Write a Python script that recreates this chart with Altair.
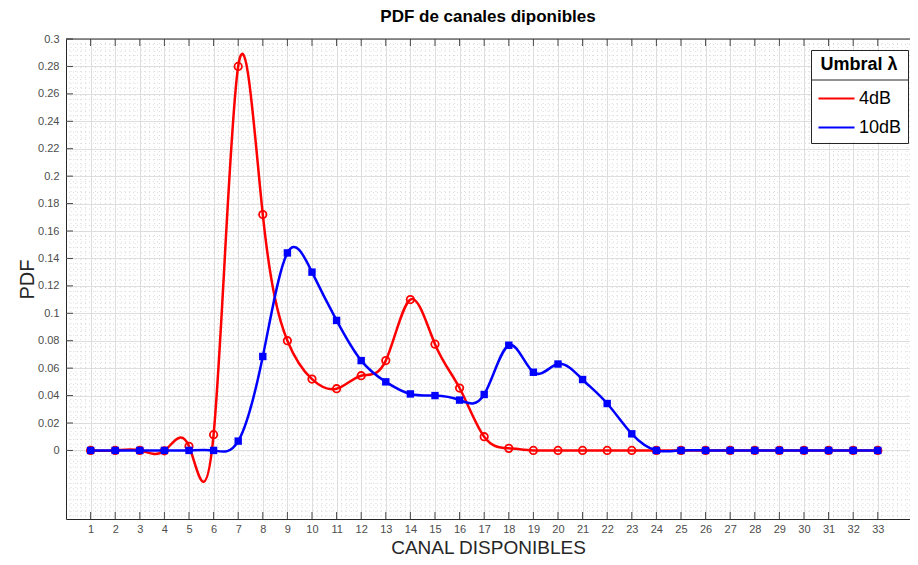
import altair as alt
import pandas as pd
import numpy as np

channels = list(range(1, 34))
pdf_4db = [0.0, 0.0, 0.0, -0.0003, 0.003, 0.0115, 0.280, 0.172, 0.080, 0.052, 0.045,
           0.0545, 0.0655, 0.110, 0.0775, 0.0455, 0.010, 0.0015] + [0.0] * 15
pdf_10db = [0.0, 0.0, 0.0, 0.0, 0.0, 0.0, 0.0068, 0.0685, 0.144, 0.130, 0.0948, 0.0655,
            0.050, 0.0412, 0.040, 0.0367, 0.0408, 0.0767, 0.057, 0.063, 0.0517, 0.0342,
            0.0121] + [0.0] * 10
series_names = ["4dB", "10dB"]
series_colors = ["#ff0000", "#0000ff"]
x_ticks = list(range(1, 34))
y_ticks = [round(i * 0.02, 2) for i in range(16)]
x_domain = [0, 34.31]
y_domain = [-0.05, 0.3]

W, H = 844, 480

df = pd.DataFrame({
    "canal": channels * 2,
    "pdf": pdf_4db + pdf_10db,
    "serie": [series_names[0]] * 33 + [series_names[1]] * 33,
})

xs = alt.Scale(domain=x_domain, nice=False, zero=False)
ys = alt.Scale(domain=y_domain, nice=False, zero=False)

ax_x = alt.Axis(values=x_ticks, title="CANAL DISPONIBLES", grid=True, ticks=False,
                domain=True, labelPadding=4, titleY=34, titleBaseline="alphabetic", format="d")
ax_y = alt.Axis(values=y_ticks, title="PDF", grid=True, ticks=False, domain=True,
                labelPadding=7, titlePadding=0, labelExpr="format(datum.value, '~g')")

# minor grid
xminor = pd.DataFrame({"v": [round(v, 2) for v in np.arange(0.2, 34.3, 0.2) if abs(v - round(v)) > 1e-6]})
yminor = pd.DataFrame({"v": [round(v, 4) for v in np.arange(-0.048, 0.3, 0.004)
                             if abs(v / 0.02 - round(v / 0.02)) > 1e-6 or v < -1e-9]})

minor_col = "#d2d2d2"
minor_x = alt.Chart(xminor).mark_rule(color=minor_col, strokeWidth=0.8, strokeDash=[1, 3]).encode(
    x=alt.X("v:Q", scale=xs, axis=ax_x))
minor_y = alt.Chart(yminor).mark_rule(color=minor_col, strokeWidth=0.8, strokeDash=[1, 3]).encode(
    y=alt.Y("v:Q", scale=ys, axis=ax_y))

tx = 7 / (W / (x_domain[1] - x_domain[0]))
ty = 7 / (H / (y_domain[1] - y_domain[0]))

xt = pd.DataFrame({"v": x_ticks})
yt = pd.DataFrame({"v": y_ticks})
tick_col = "#4a4a4a"
tick_bottom = alt.Chart(xt).transform_calculate(a=f"{y_domain[0]}", b=f"{y_domain[0] + ty}").mark_rule(
    color=tick_col, strokeWidth=1).encode(x=alt.X("v:Q", scale=xs, axis=ax_x),
                                          y=alt.Y("a:Q", scale=ys, axis=ax_y), y2="b:Q")
tick_top = alt.Chart(xt).transform_calculate(a=f"{y_domain[1]}", b=f"{y_domain[1] - ty}").mark_rule(
    color=tick_col, strokeWidth=1).encode(x=alt.X("v:Q", scale=xs, axis=ax_x),
                                          y=alt.Y("a:Q", scale=ys, axis=ax_y), y2="b:Q")
tick_left = alt.Chart(yt).transform_calculate(a=f"{x_domain[0]}", b=f"{x_domain[0] + tx}").mark_rule(
    color=tick_col, strokeWidth=1).encode(y=alt.Y("v:Q", scale=ys, axis=ax_y),
                                          x=alt.X("a:Q", scale=xs, axis=ax_x), x2="b:Q")
top_border = alt.Chart(pd.DataFrame({"a": [x_domain[0]], "b": [x_domain[1]], "y": [y_domain[1]]})).mark_rule(
    color="#262626", strokeWidth=1).encode(x=alt.X("a:Q", scale=xs, axis=ax_x), x2="b:Q",
                                           y=alt.Y("y:Q", scale=ys, axis=ax_y))

base = alt.Chart(df)

LX, LY = 745, 11

lines = base.mark_line(interpolate="natural", strokeWidth=2.5).encode(
    x=alt.X("canal:Q", scale=xs, axis=ax_x),
    y=alt.Y("pdf:Q", scale=ys, axis=ax_y),
    color=alt.Color("serie:N", sort=series_names,
                    scale=alt.Scale(domain=series_names, range=series_colors),
                    legend=alt.Legend(title="Umbral λ", orient="none", legendX=LX, legendY=LY,
                                      symbolType="stroke", symbolSize=1300, symbolStrokeWidth=2,
                                      strokeColor="#262626", padding=6,
                                      titleFontSize=18, titleFontWeight="bold", titleColor="black",
                                      labelFontSize=18, labelColor="black", titlePadding=5,
                                      rowPadding=0, titleAnchor="middle", labelOffset=3,
                                      titleFont="Liberation Sans", labelFont="Liberation Sans")),
    order=alt.Order("canal:Q"),
    detail="serie:N",
)

red_pts = base.transform_filter(alt.datum.serie == series_names[0]).mark_point(
    shape="circle", filled=False, size=55, strokeWidth=1.8, color=series_colors[0], opacity=1).encode(
    x=alt.X("canal:Q", scale=xs, axis=ax_x), y=alt.Y("pdf:Q", scale=ys, axis=ax_y))
blue_pts = base.transform_filter(alt.datum.serie == series_names[1]).mark_point(
    shape="square", filled=True, size=55, color=series_colors[1], opacity=1).encode(
    x=alt.X("canal:Q", scale=xs, axis=ax_x), y=alt.Y("pdf:Q", scale=ys, axis=ax_y))

red_line = lines.transform_filter(alt.datum.serie == series_names[0])
blue_line = lines.transform_filter(alt.datum.serie == series_names[1])

deco = pd.DataFrame({"d": [0]})
legend_bg = alt.Chart(deco).mark_rect(color="white", opacity=1).encode(
    x=alt.value(LX), x2=alt.value(LX + 97), y=alt.value(LY), y2=alt.value(LY + 92))
legend_sep = alt.Chart(deco).mark_rule(color="#262626", strokeWidth=1).encode(
    x=alt.value(LX), x2=alt.value(LX + 97), y=alt.value(LY + 30))

chart = alt.layer(
    minor_x, minor_y, tick_bottom, tick_top, tick_left, top_border,
    red_line, red_pts, blue_line, blue_pts, legend_bg, legend_sep,
).properties(
    width=W, height=H,
    title=alt.TitleParams("PDF de canales diponibles", fontSize=17, fontWeight="bold",
                          color="black", font="Liberation Sans", offset=7),
    autosize=alt.AutoSizeParams(type="none"),
    padding={"left": 58, "top": 31, "right": 0, "bottom": 38},
).configure_view(
    strokeWidth=0
).configure_axis(
    gridColor="#dedede", gridWidth=1, labelFont="Liberation Sans", labelFontSize=11,
    labelColor="#4d4d4d", titleFont="Liberation Sans", titleFontWeight="normal",
    titleColor="#262626", domainColor="#262626", domainWidth=1,
).configure_axisX(
    titleFontSize=19
).configure_axisY(
    titleFontSize=20
)

chart.save("out.html", embed_options={"renderer": "svg", "actions": False})
